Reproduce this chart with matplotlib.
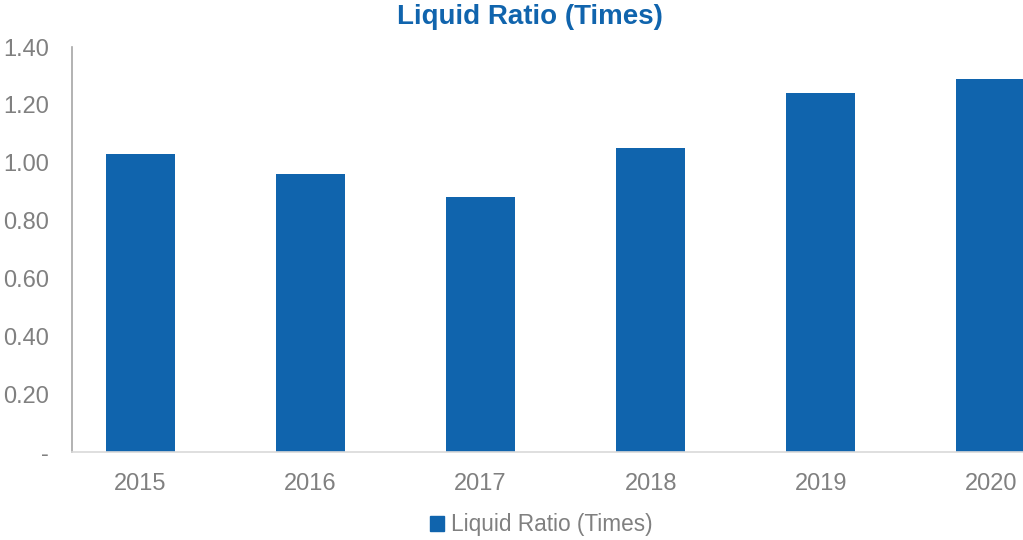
import matplotlib
matplotlib.use("Agg")
import matplotlib.pyplot as plt
from matplotlib.patches import Patch

plt.rcParams["font.family"] = ["Liberation Sans", "DejaVu Sans"]

# data
years = ["2015", "2016", "2017", "2018", "2019", "2020"]
ratio = [1.03, 0.96, 0.88, 1.05, 1.24, 1.29]
yticks = [0, 0.2, 0.4, 0.6, 0.8, 1.0, 1.2, 1.4]
ytick_labels = ["-", "0.20", "0.40", "0.60", "0.80", "1.00", "1.20", "1.40"]

BLUE = "#1064ad"
GREY = "#808080"

fig = plt.figure(figsize=(10.23, 5.4), dpi=100)
ax = fig.add_axes([72 / 1023, 88 / 540, 1 - 72 / 1023, 405 / 540])

x = range(len(years))
ax.bar(x, ratio, width=0.406, color=BLUE, label="Liquid Ratio (Times)")

ax.set_xlim(-0.403, 5.19)
ax.set_ylim(0, 1.4)
ax.set_xticks(list(x))
ax.set_xticklabels(years)
ax.set_yticks(yticks)
ax.set_yticklabels(ytick_labels)
ax.tick_params(axis="both", length=0, labelsize=17, labelcolor=GREY)
ax.tick_params(axis="y", pad=16.5)
ax.tick_params(axis="x", pad=15)

for s in ["top", "right"]:
    ax.spines[s].set_visible(False)
ax.spines["left"].set_color("#a6a6a6")
ax.spines["left"].set_linewidth(1.2)
ax.spines["bottom"].set_color("#d9d9d9")
ax.spines["bottom"].set_linewidth(1.2)

fig.text(0.518, 0.968, "Liquid Ratio (Times)", ha="center", va="center",
         fontsize=20, fontweight="bold", color=BLUE)

fig.legend(handles=[Patch(color=BLUE, label="Liquid Ratio (Times)")],
           loc="center", bbox_to_anchor=(0.529, 0.028), frameon=False,
           fontsize=16.3, labelcolor=GREY, handlelength=0.6, handleheight=0.6,
           handletextpad=0.3)

fig.savefig("out.png", dpi=100)
